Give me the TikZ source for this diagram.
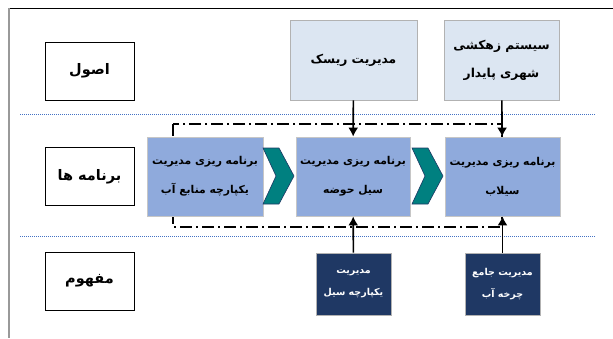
\documentclass[tikz,border=0pt]{standalone}
\usepackage{fontspec}
\usepackage{tikz}
\usetikzlibrary{arrows.meta}
\newfontfamily\fa[Script=Arabic]{DejaVu Sans}
\TeXXeTstate=1
\newcommand{\rtltext}[1]{\beginR #1\endR}

\definecolor{lightbox}{RGB}{220,230,242}
\definecolor{midbox}{RGB}{143,170,220}
\definecolor{darkbox}{RGB}{31,56,100}
\definecolor{chevfill}{RGB}{0,128,128}
\definecolor{chevline}{RGB}{31,56,100}
\definecolor{dotblue}{RGB}{68,114,196}

\begin{document}
\begin{tikzpicture}[x=1pt,y=-1pt,
  every node/.style={draw,shape=rectangle,align=center,inner sep=0pt},
  labelbox/.style={fill=white,draw=black,line width=0.8pt,minimum width=89pt,minimum height=58pt,
    font={\fa\bfseries\fontsize{14.5}{17}\selectfont}},
  topbox/.style={fill=lightbox,draw=gray!60,line width=0.8pt,minimum height=80pt,
    font={\fa\bfseries\fontsize{12.3}{28}\selectfont}},
  progbox/.style={fill=midbox,draw=gray!45,line width=0.8pt,minimum height=79pt,
    font={\fa\bfseries\fontsize{10.8}{29}\selectfont}},
  conceptbox/.style={fill=darkbox,draw=gray!60,line width=0.8pt,text=white,minimum width=75pt,minimum height=62pt,
    font={\fa\bfseries\fontsize{9.5}{22}\selectfont}},
  chev/.style={fill=chevfill,draw=chevline,line width=0.6pt},
  feed/.style={draw=black,line width=1.6pt,-{Latex[length=9pt,width=10pt]}}]

\useasboundingbox (0,0) rectangle (613,338);

% frame, only top and left are in view
\draw[black,line width=0.9pt] (8,8) -- (613,8);
\draw[gray!80,line width=1.3pt] (9,8) -- (9,338);

% rows are split by dotted lines
\draw[dotblue,line width=0.8pt,dash pattern=on 1pt off 1pt] (20,114) -- (596,114);
\draw[dotblue,line width=0.8pt,dash pattern=on 1pt off 1pt] (20,236) -- (596,236);

% dash-dot frame round the programmes
\draw[black,line width=1.5pt,dash pattern=on 12pt off 4pt on 2pt off 4pt]
  (173,124) rectangle (502,227);

% row titles
\node[labelbox] (osul) at (89.5,71) {\rtltext{اصول}};
\node[labelbox] (barname) at (89.5,176.5) {\rtltext{برنامه ها}};
\node[labelbox] (mafhum) at (89.5,281) {\rtltext{مفهوم}};

% principles
\node[topbox,minimum width=127pt] (risk) at (353.5,60) {\rtltext{مدیریت ریسک}};
\node[topbox,minimum width=115pt] (zahkeshi) at (501.5,60)
  {\rtltext{سیستم زهکشی}\\\rtltext{شهری پایدار}};

% programmes
\node[progbox,minimum width=116pt] (manabe) at (205,176.5)
  {\rtltext{برنامه ریزی مدیریت}\\\rtltext{یکپارچه منابع آب}};
\node[progbox,minimum width=114pt] (howze) at (353,176.5)
  {\rtltext{برنامه ریزی مدیریت}\\\rtltext{سیل حوضه}};
\node[progbox,minimum width=115pt] (seylab) at (502.5,176.5)
  {\rtltext{برنامه ریزی مدیریت}\\\rtltext{سیلاب}};

% concepts
\node[conceptbox] (yekparche) at (353.5,284)
  {\rtltext{مدیریت}\\\rtltext{یکپارچه سیل}};
\node[conceptbox] (charkhe) at (502.5,284)
  {\rtltext{مدیریت جامع}\\\rtltext{چرخه آب}};

% chevrons between programmes
\foreach \x in {263,412}
  \filldraw[chev] (\x,148) -- ++(16,0) -- ++(15,28) -- ++(-15,28) -- ++(-16,0) -- ++(13,-28) -- cycle;

% arrows into the programmes
\draw[feed] (risk) -- (howze);
\draw[feed] (zahkeshi) -- (seylab);
\draw[feed] (yekparche) -- (howze);
\draw[feed] (charkhe) -- (seylab);
\end{tikzpicture}
\end{document}
